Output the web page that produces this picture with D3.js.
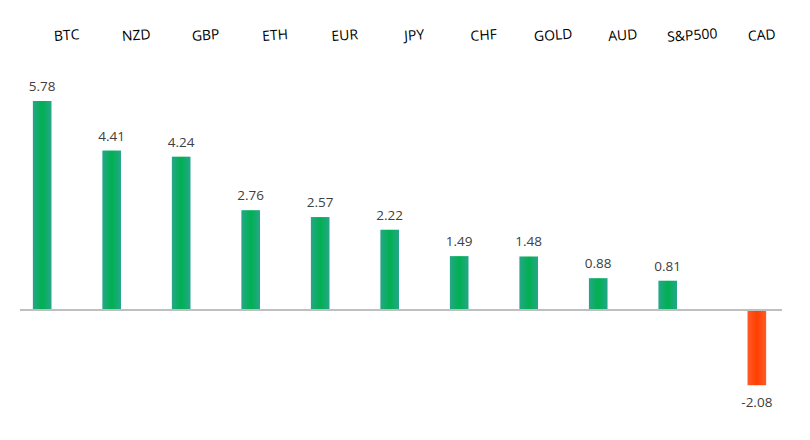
<!DOCTYPE html>
<html>
<head>
<meta charset="utf-8">
<script src="https://cdn.jsdelivr.net/npm/d3@7"></script>
<style>
  body { margin: 0; background: #fff; }
  text { font-family: "Open Sans", "Noto Sans", sans-serif; }
</style>
</head>
<body>
<svg class="chart"></svg>
<script>
const categories = ['BTC', 'NZD', 'GBP', 'ETH', 'EUR', 'JPY', 'CHF', 'GOLD', 'AUD', 'S&P500', 'CAD'];
const values = [5.78, 4.41, 4.24, 2.76, 2.57, 2.22, 1.49, 1.48, 0.88, 0.81, -2.08];
// two series like the spreadsheet it came from: gains and losses
const seriesNames = ['pos', 'neg'];

const width = 810;
const height = 440;
const zeroY = 310;

const chart = d3.select('.chart')
  .attr('width', width)
  .attr('height', height);

chart.selectAll('*').remove();

// gradients for the bars (teal edges, green middle / orange-red)
const defs = chart.append('defs');
function grad(id, edge, mid) {
  const g = defs.append('linearGradient').attr('id', id)
    .attr('x1', '0%').attr('x2', '100%').attr('y1', '0%').attr('y2', '0%');
  g.append('stop').attr('offset', '0%').attr('stop-color', edge);
  g.append('stop').attr('offset', '50%').attr('stop-color', mid);
  g.append('stop').attr('offset', '100%').attr('stop-color', edge);
}
grad('gpos', '#26a68a', '#00b050');
grad('gneg', '#ff5a28', '#ff4000');

const x = d3.scaleBand()
  .domain(categories)
  .range([12, 787])
  .paddingInner(0.45)
  .paddingOuter(0.3);

const xSub = d3.scaleBand()
  .domain(seriesNames)
  .range([0, x.bandwidth()])
  .paddingInner(0.05);

const y = d3.scaleLinear()
  .domain([0, 5.78])
  .range([zeroY, 101]);

const barX = (d, i) => x(categories[i]) + xSub(d >= 0 ? 'pos' : 'neg');

// bars
const bar = chart.selectAll('g.bar')
  .data(values)
  .enter().append('g')
  .attr('class', 'bar');

bar.append('rect')
  .attr('x', barX)
  .attr('y', d => Math.min(y(d), y(0)))
  .attr('width', xSub.bandwidth())
  .attr('height', d => Math.abs(y(d) - y(0)))
  .attr('fill', d => d >= 0 ? 'url(#gpos)' : 'url(#gneg)');

// value labels
bar.append('text')
  .attr('x', (d, i) => barX(d, i) + xSub.bandwidth() / 2)
  .attr('y', d => d >= 0 ? y(d) - 10 : y(d) + 22)
  .attr('text-anchor', 'middle')
  .attr('font-size', 13.5)
  .attr('fill', '#404040')
  .text(d => d.toFixed(2));

// zero line
chart.append('line')
  .attr('x1', 20).attr('x2', 782)
  .attr('y1', y(0)).attr('y2', y(0))
  .attr('stroke', '#bfbfbf')
  .attr('stroke-width', 2);

// category labels along the top, slightly tilted
chart.selectAll('text.cat')
  .data(categories)
  .enter().append('text')
  .attr('class', 'cat')
  .attr('transform', d => `translate(${x(d) + x.bandwidth() / 2 + 15}, 40) rotate(-4)`)
  .attr('text-anchor', 'middle')
  .attr('font-size', 14)
  .attr('fill', '#000')
  .text(d => d);
</script>
</body>
</html>
